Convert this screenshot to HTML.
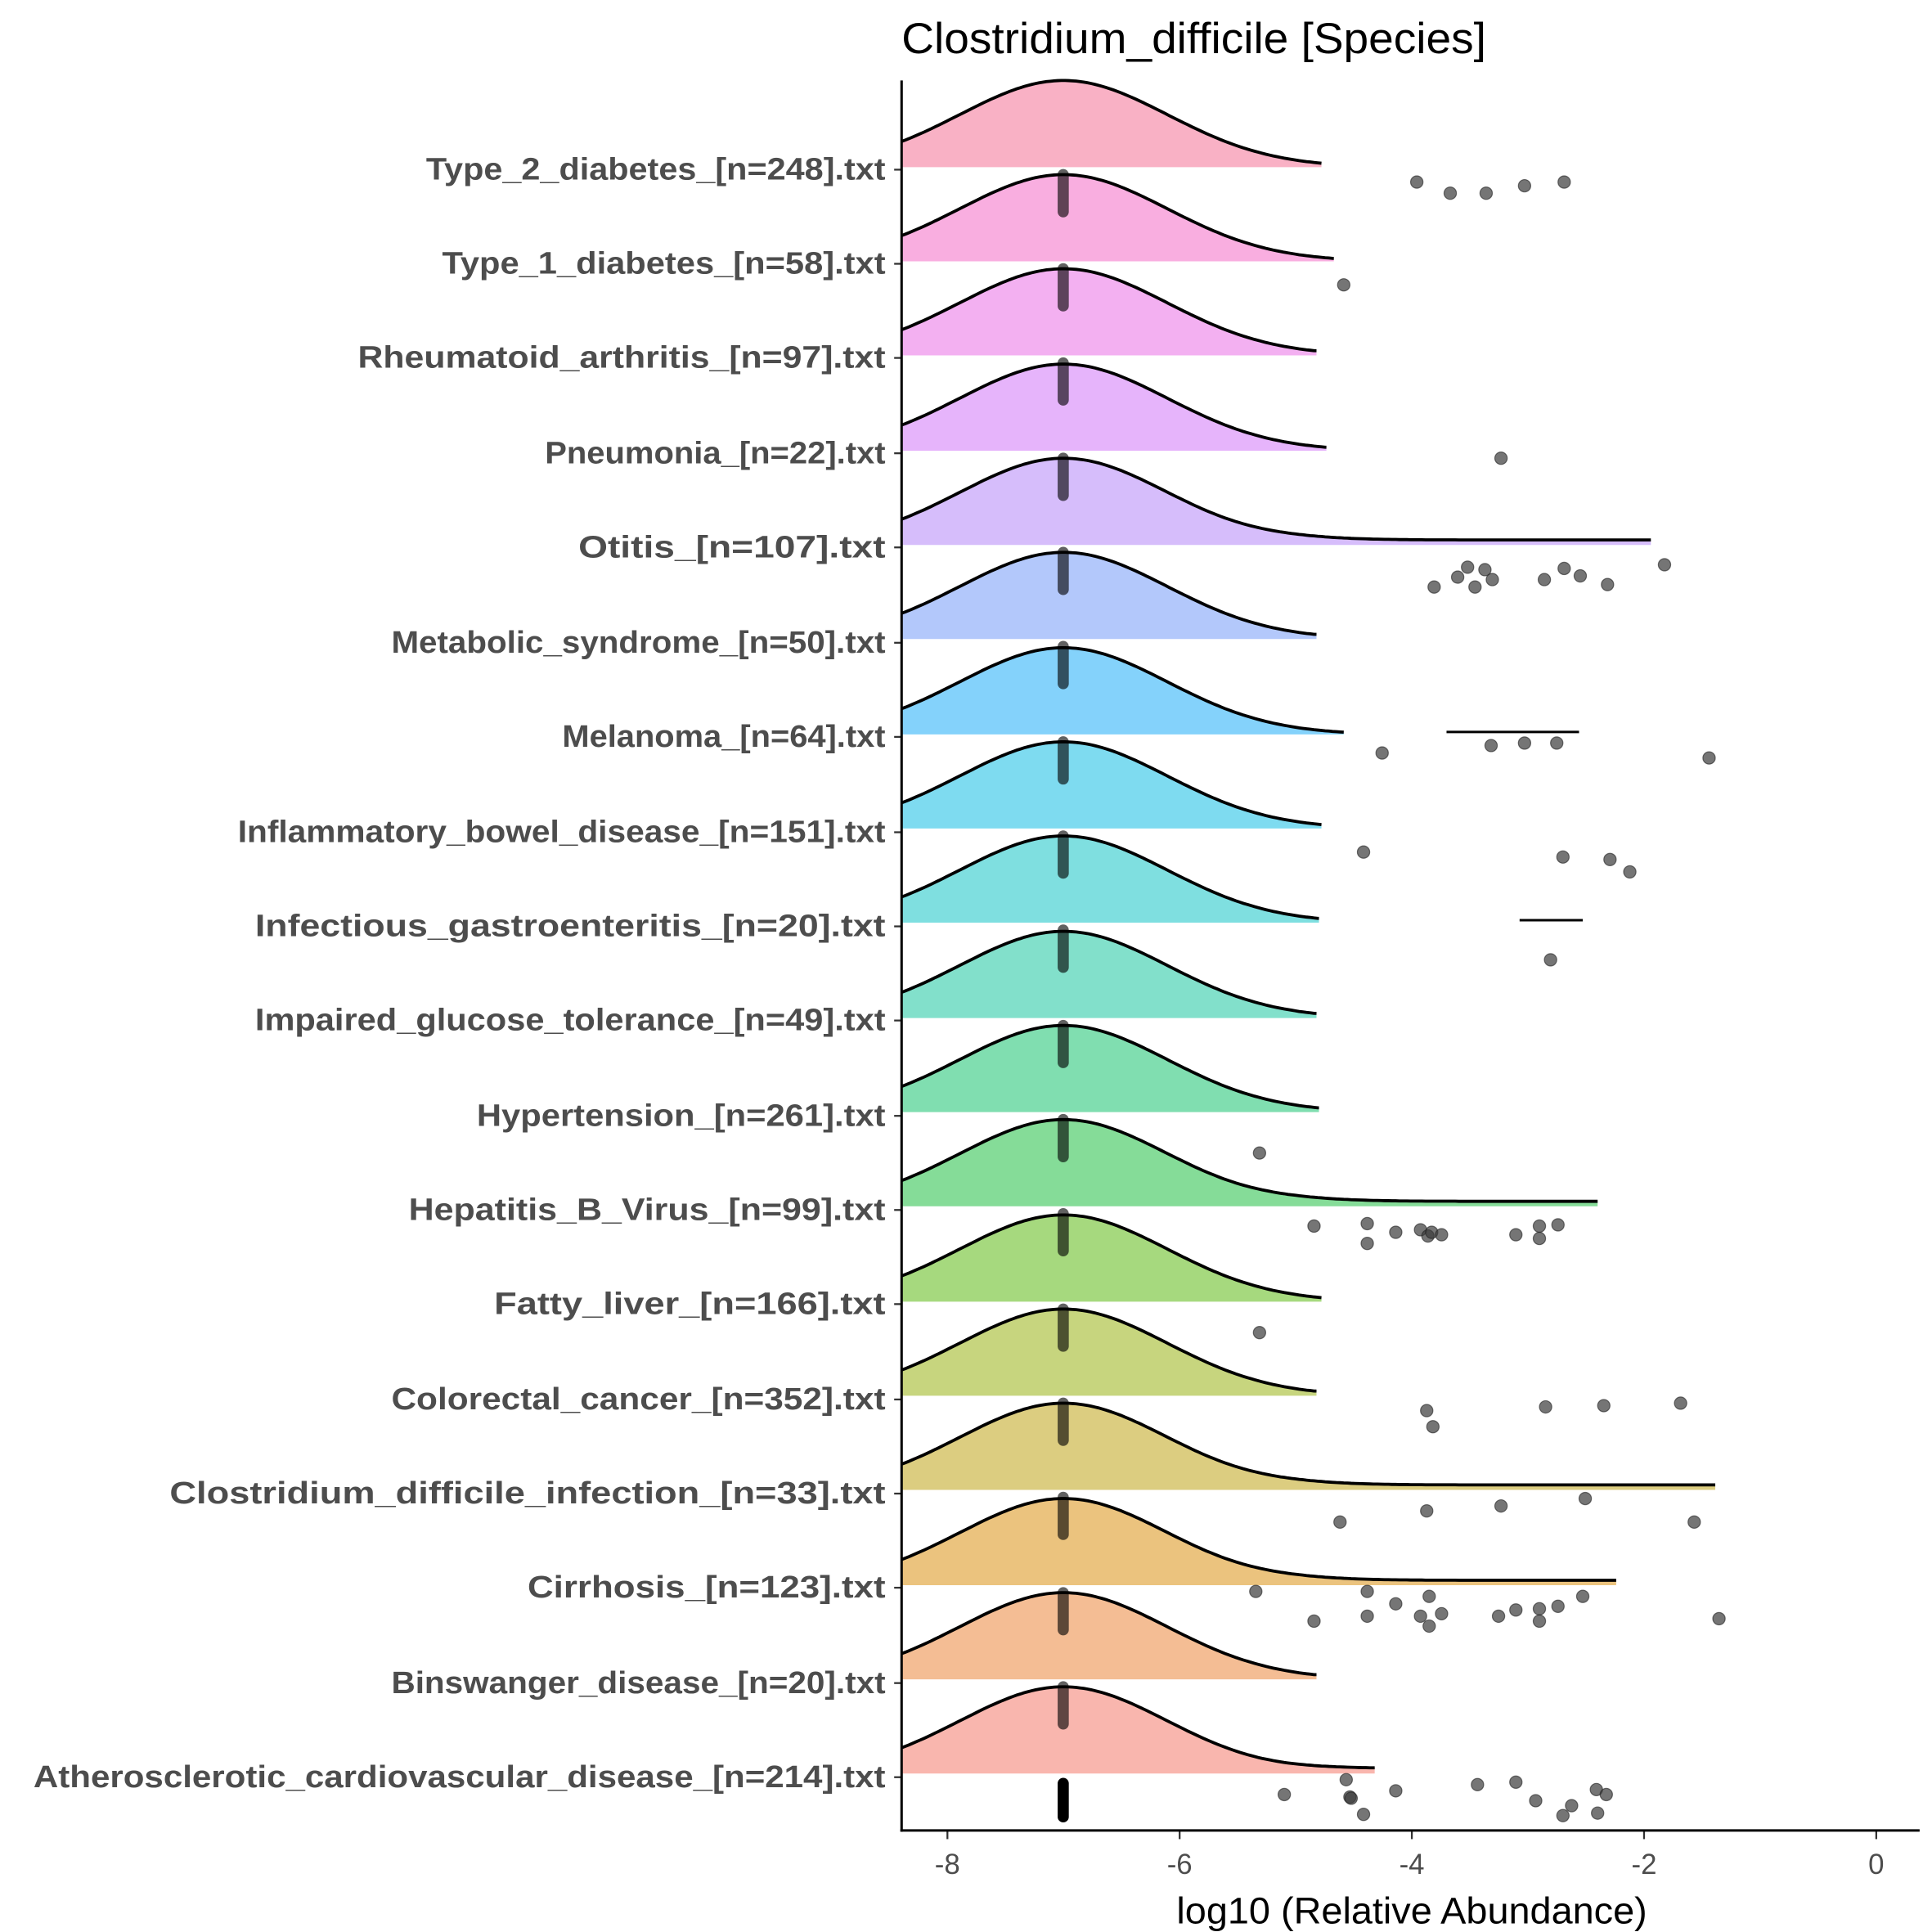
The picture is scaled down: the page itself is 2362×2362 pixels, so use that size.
<!DOCTYPE html>
<html><head><meta charset="utf-8"><style>html,body{margin:0;padding:0;background:#fff}svg{display:block}</style></head>
<body>
<svg id="s" xmlns="http://www.w3.org/2000/svg" width="2362" height="2362" viewBox="0 0 1560 1560" font-family="Liberation Sans, Arial, sans-serif">
<rect width="1560" height="1560" fill="#fff"/>
<g id="g"></g>
<line x1="728" y1="65" x2="728" y2="1479" stroke="#000" stroke-width="2"/>
<line x1="727" y1="1478" x2="1550" y2="1478" stroke="#000" stroke-width="2"/>
<text x="728" y="43" font-size="35" fill="#000" textLength="472" lengthAdjust="spacingAndGlyphs">Clostridium_difficile [Species]</text>
<text x="950" y="1553" font-size="30" fill="#000" textLength="380" lengthAdjust="spacingAndGlyphs">log10 (Relative Abundance)</text>
</svg>
<script>
var g=document.getElementById('g'),NS='http://www.w3.org/2000/svg';
function el(t,a,txt){var e=document.createElementNS(NS,t);for(var k in a)e.setAttribute(k,a[k]);if(txt)e.textContent=txt;g.appendChild(e);return e;}
function X(v){return 1515+93.75*v;}
var rows=[
["Type_2_diabetes_[n=248].txt","#f9b1c5",1067,0],
["Type_1_diabetes_[n=58].txt","#f9aee0",1077,0],
["Rheumatoid_arthritis_[n=97].txt","#f3b0f1",1063,0],
["Pneumonia_[n=22].txt","#e6b4fb",1071,0],
["Otitis_[n=107].txt","#d6bdfb",1333,1],
["Metabolic_syndrome_[n=50].txt","#b3c8fb",1063,0],
["Melanoma_[n=64].txt","#84d2fb",1085,0],
["Inflammatory_bowel_disease_[n=151].txt","#7edbf0",1067,0],
["Infectious_gastroenteritis_[n=20].txt","#7fdfe0",1065,0],
["Impaired_glucose_tolerance_[n=49].txt","#82e0cb",1063,0],
["Hypertension_[n=261].txt","#80deb0",1065,0],
["Hepatitis_B_Virus_[n=99].txt","#85dc98",1290,1],
["Fatty_liver_[n=166].txt","#a6d97e",1067,0],
["Colorectal_cancer_[n=352].txt","#c7d57e",1063,0],
["Clostridium_difficile_infection_[n=33].txt","#dccd80",1385,1],
["Cirrhosis_[n=123].txt","#ebc37e",1305,1],
["Binswanger_disease_[n=20].txt","#f4bd94",1063,0],
["Atherosclerotic_cardiovascular_disease_[n=214].txt","#f9b6ae",1110,2]];
var base=[135,211,287,364,440,516,593,669,745,822,898,974,1051,1127,1203,1280,1356,1432];
var ly=[137,213,289,366,442,519,595,672,748,824,901,977,1053,1130,1206,1282,1359,1435];
for(var i=0;i<rows.length;i++){
 var r=rows[i],b=base[i],pts=[];
 for(var x=728;x<=r[2];x+=3){
  var v=(x-1515)/93.75,h=70*Math.exp(-Math.pow(v+7,2)/(2*0.8));
  if(r[3]==1){h+=4/(1+Math.exp(-(v+5.3)*4));}
  if(r[3]==2){h+=4/(1+Math.exp(-(v+5)*4));}
  pts.push([x,b-h]);
 }
 var last=[r[2],pts[pts.length-1][1]];pts.push(last);
 var d="M"+pts.map(function(p){return p[0].toFixed(1)+","+p[1].toFixed(1)}).join("L");
 el('path',{d:d+"L"+r[2]+","+b+"L728,"+b+"Z",fill:r[1]});
 el('path',{d:d,fill:"none",stroke:"#000","stroke-width":2.5});
 if(i>0){el('line',{x1:858.5,y1:base[i-1]+6,x2:858.5,y2:base[i-1]+36,stroke:"#000","stroke-opacity":0.62,"stroke-width":9,"stroke-linecap":"round"});}
 el('text',{x:715,y:ly[i]+8,"font-size":25,"font-weight":"bold",fill:"#4d4d4d","text-anchor":"end",textLength:(r[0].length*13.75).toFixed(0),lengthAdjust:"spacingAndGlyphs"},r[0]);
 el('line',{x1:722,y1:ly[i],x2:728,y2:ly[i],stroke:"#333","stroke-width":1.5});
}
el('line',{x1:858.5,y1:1440,x2:858.5,y2:1467,stroke:"#000","stroke-width":9,"stroke-linecap":"round"});
el('line',{x1:1168,y1:591,x2:1275,y2:591,stroke:"#000","stroke-width":2});
el('line',{x1:1227,y1:743,x2:1278,y2:743,stroke:"#000","stroke-width":2});
var P=[[1144,147],[1171,156],[1200,156],[1231,150],[1263,147],[1085,230],[1212,370],
[1158,474],[1177,466],[1185,458],[1191,474],[1199,460],[1205,468],[1247,468],[1263,459],[1276,465],[1298,472],[1344,456],
[1116,608],[1204,602],[1231,600],[1257,600],[1380,612],
[1101,688],[1262,692],[1300,694],[1316,704],[1252,775],[1017,931],
[1061,990],[1104,988],[1104,1004],[1127,995],[1147,993],[1153,998],[1156,995],[1164,997],[1224,997],[1243,990],[1243,1000],[1258,989],
[1017,1076],[1152,1139],[1157,1152],[1248,1136],[1295,1135],[1357,1133],
[1082,1229],[1152,1220],[1212,1216],[1280,1210],[1368,1229],
[1014,1285],[1061,1309],[1104,1285],[1104,1305],[1127,1295],[1147,1305],[1154,1289],[1154,1313],[1164,1303],[1210,1305],[1224,1300],[1243,1299],[1243,1309],[1258,1297],[1278,1289],[1388,1307],
[1037,1449],[1087,1437],[1090,1451],[1091,1452],[1101,1465],[1127,1446],[1193,1441],[1224,1439],[1240,1454],[1262,1466],[1269,1458],[1289,1445],[1297,1449],[1290,1464]];
P.forEach(function(p){el('circle',{cx:p[0],cy:p[1],r:5,fill:"#3a3a3a","fill-opacity":0.7,stroke:"#222","stroke-opacity":0.6,"stroke-width":0.8});});
[-8,-6,-4,-2,0].forEach(function(v){var x=X(v);
 el('line',{x1:x,y1:1478,x2:x,y2:1485,stroke:"#333","stroke-width":1.5});
 el('text',{x:x,y:1513,"font-size":23,fill:"#4d4d4d","text-anchor":"middle"},String(v));});
</script>
</body></html>
